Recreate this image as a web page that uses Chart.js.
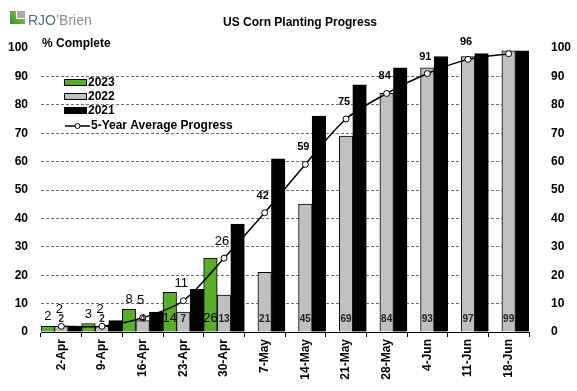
<!DOCTYPE html>
<html>
<head>
<meta charset="utf-8">
<script src="https://cdn.jsdelivr.net/npm/chart.js@4.4.0/dist/chart.umd.min.js"></script>
<style>
  body { margin: 0; background: #fff; }
</style>
</head>
<body>
<canvas id="myChart" width="577" height="391"></canvas>
<script>
// weekly planting progress, % complete
const weeks = ['2-Apr', '9-Apr', '16-Apr', '23-Apr', '30-Apr', '7-May', '14-May', '21-May', '28-May', '4-Jun', '11-Jun', '18-Jun'];
const y2023 = [2, 3, 8, 14, 26, null, null, null, null, null, null, null];
const y2022 = [2, 2, 4, 7, 13, 21, 45, 69, 84, 93, 97, 99];
const y2021 = [2, 4, 7, 15, 38, 61, 76, 87, 93, 97, 98, 99];
const fiveYearAvg = [2, 2, 5, 11, 26, 42, 59, 75, 84, 91, 96, 98];
const yTicks = [0, 10, 20, 30, 40, 50, 60, 70, 80, 90, 100];

const GREEN = '#5aac2a';
const GRAY = '#c0c0c0';
const FONT = '"Liberation Sans", Arial, sans-serif';

// logo, title, legend and the data labels
const extras = {
    id: 'extras',
    afterDatasetsDraw(chart) {
        const c = chart.ctx;
        c.save();
        c.fillStyle = '#000';
        c.textAlign = 'center';
        c.textBaseline = 'bottom';

        // 2023: above small bars, inside base for bigger ones
        chart.getDatasetMeta(0).data.forEach(function(bar, i) {
            if (y2023[i] == null) return;
            c.font = '13px ' + FONT;
            if (bar.base - bar.y < 30) {
                c.fillText(y2023[i], bar.x, bar.y - 3);
            } else {
                c.fillText(y2023[i], bar.x, bar.base - 7);
            }
        });

        // 2022: inside base
        c.font = 'bold 10px ' + FONT;
        c.fillStyle = '#222';
        chart.getDatasetMeta(1).data.forEach(function(bar, i) {
            c.fillText(y2022[i], bar.x, bar.base - 7);
        });

        // 5-year average labels (last week not labelled)
        c.fillStyle = '#000';
        c.textBaseline = 'middle';
        chart.getDatasetMeta(3).data.forEach(function(pt, i) {
            if (i === fiveYearAvg.length - 1) return;
            c.font = i < 5 ? '13px ' + FONT : 'bold 11px ' + FONT;
            c.fillText(fiveYearAvg[i], pt.x - 2, pt.y - 17);
        });
        c.restore();
    },
    afterDraw(chart) {
        const c = chart.ctx;
        c.save();

        // logo
        const g = c.createLinearGradient(10, 24, 24, 11);
        g.addColorStop(0, '#2f8f3a');
        g.addColorStop(1, '#9ccc4a');
        c.fillStyle = g;
        c.fillRect(10, 11, 15, 13);
        c.fillStyle = '#a8a8a8';
        c.fillRect(17, 11, 8, 7);
        c.fillStyle = '#fff';
        c.fillRect(16, 11, 1, 8);
        c.fillRect(16, 18, 9, 1);
        c.textAlign = 'left';
        c.textBaseline = 'alphabetic';
        c.font = '14px ' + FONT;
        c.fillStyle = '#4d7196';
        c.fillText('RJO', 28, 25);
        const w = c.measureText('RJO').width;
        c.fillStyle = '#8c8c8c';
        c.fillText('\u2019Brien', 28 + w, 25);

        // title and axis caption
        c.fillStyle = '#000';
        c.font = 'bold 12px ' + FONT;
        c.textAlign = 'center';
        c.textBaseline = 'middle';
        c.fillText('US Corn Planting Progress', 300, 23);
        c.textAlign = 'left';
        c.fillText('% Complete', 42, 44);

        // legend
        const rows = [
            { label: '2023', fill: GREEN, y: 83 },
            { label: '2022', fill: GRAY, y: 97 },
            { label: '2021', fill: '#000', y: 111 }
        ];
        rows.forEach(function(r) {
            c.fillStyle = r.fill;
            c.fillRect(64.5, r.y - 3.5, 22, 6);
            c.strokeStyle = '#000';
            c.lineWidth = 1;
            c.strokeRect(64.5, r.y - 3.5, 22, 6);
            c.fillStyle = '#000';
            c.fillText(r.label, 88, r.y);
        });
        c.beginPath();
        c.moveTo(65, 126);
        c.lineTo(90, 126);
        c.lineWidth = 1.5;
        c.stroke();
        c.beginPath();
        c.arc(77.5, 126, 2.5, 0, Math.PI * 2);
        c.fillStyle = '#fff';
        c.fill();
        c.lineWidth = 1;
        c.stroke();
        c.fillStyle = '#000';
        c.fillText('5-Year Average Progress', 91, 126);
        c.restore();
    }
};

const ctx = document.getElementById('myChart').getContext('2d');
const myChart = new Chart(ctx, {
    type: 'bar',
    data: {
        labels: weeks,
        datasets: [{
            label: '2023',
            data: y2023,
            backgroundColor: GREEN,
            borderColor: '#000',
            borderWidth: 1,
            order: 1
        }, {
            label: '2022',
            data: y2022,
            backgroundColor: GRAY,
            borderColor: '#000',
            borderWidth: 1,
            order: 1
        }, {
            label: '2021',
            data: y2021,
            backgroundColor: '#000',
            borderColor: '#000',
            borderWidth: 1,
            order: 1
        }, {
            type: 'line',
            label: '5-Year Average Progress',
            data: fiveYearAvg,
            borderColor: '#000',
            borderWidth: 1.5,
            tension: 0.3,
            pointRadius: 3,
            pointBackgroundColor: '#fff',
            pointBorderColor: '#000',
            pointBorderWidth: 1,
            order: 0
        }]
    },
    options: {
        responsive: false,
        animation: false,
        layout: { padding: { top: 48, left: 0, right: 0, bottom: 0 } },
        datasets: {
            bar: { categoryPercentage: 1, barPercentage: 1 }
        },
        plugins: {
            legend: { display: false },
            tooltip: { enabled: false }
        },
        scales: {
            x: {
                afterFit: function(scale) { scale.height = 59; },
                grid: {
                    offset: true,
                    drawOnChartArea: false,
                    drawTicks: true,
                    tickLength: 5,
                    color: '#000'
                },
                border: { display: true, color: '#000', width: 1 },
                ticks: {
                    autoSkip: false,
                    minRotation: 90,
                    maxRotation: 90,
                    padding: 2,
                    color: '#000',
                    font: { family: FONT, size: 12, weight: 'bold' }
                }
            },
            y: {
                position: 'left',
                min: 0,
                max: 100,
                afterFit: function(scale) { scale.width = 41; },
                afterBuildTicks: function(scale) {
                    scale.ticks = yTicks.map(function(v) { return { value: v }; });
                },
                grid: {
                    drawTicks: false,
                    color: function(c) {
                        const v = c.tick && c.tick.value;
                        return (v === 0 || v === 100) ? 'rgba(0,0,0,0)' : '#6e6e6e';
                    },
                    lineWidth: 1,
                    borderDash: [3, 2]
                },
                border: { display: false, dash: [3, 2] },
                ticks: {
                    padding: 13,
                    color: '#000',
                    font: { family: FONT, size: 12, weight: 'bold' }
                }
            },
            y2: {
                position: 'right',
                min: 0,
                max: 100,
                afterFit: function(scale) { scale.width = 48; },
                afterBuildTicks: function(scale) {
                    scale.ticks = yTicks.map(function(v) { return { value: v }; });
                },
                grid: { display: false, drawTicks: false },
                border: { display: false },
                ticks: {
                    padding: 22,
                    color: '#000',
                    font: { family: FONT, size: 12, weight: 'bold' }
                }
            }
        }
    },
    plugins: [extras]
});
</script>
</body>
</html>
